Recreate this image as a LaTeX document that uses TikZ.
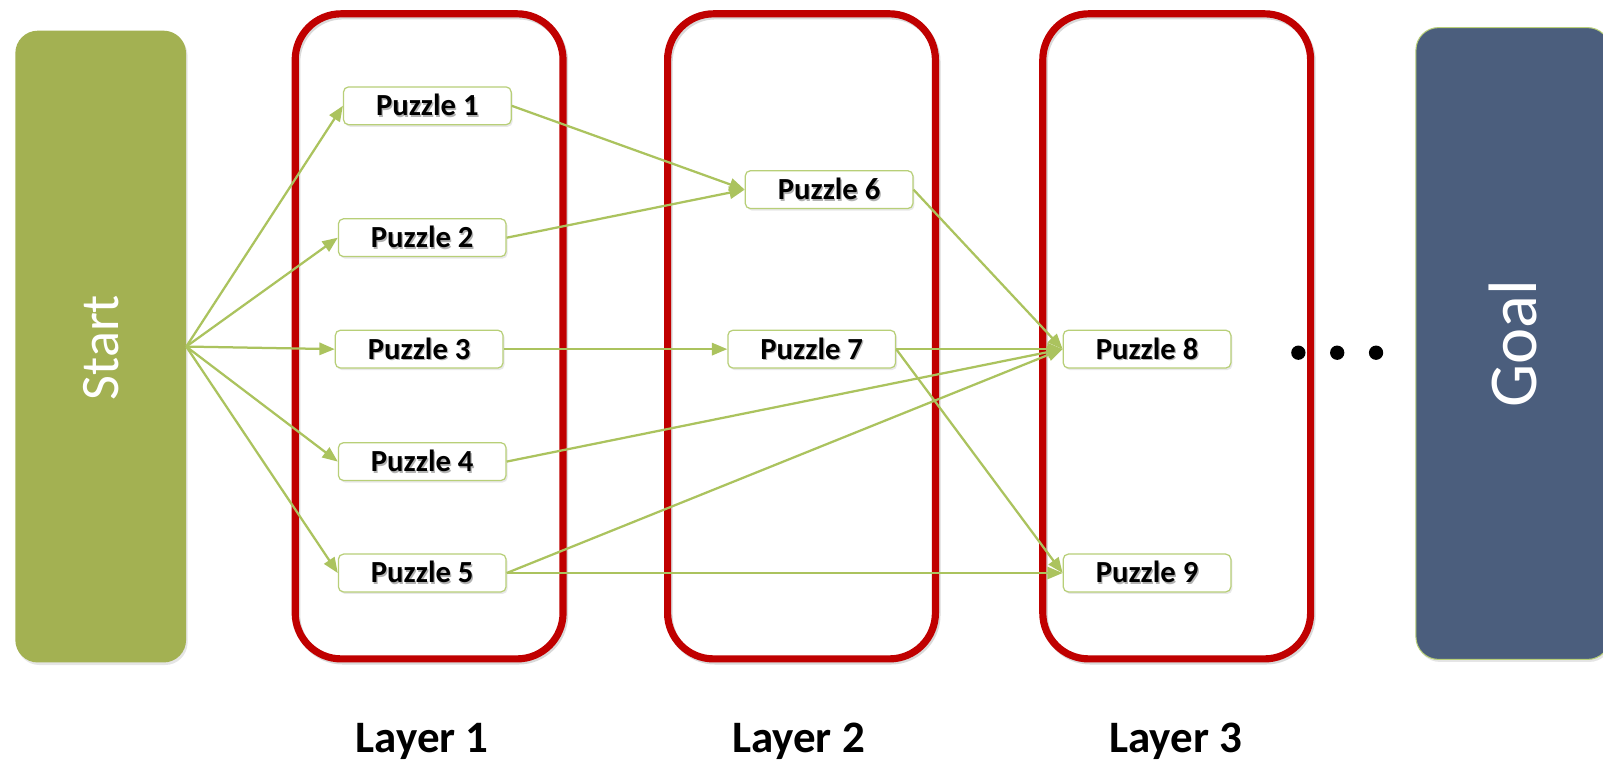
\documentclass[tikz,border=0pt]{standalone}
\usepackage{fontspec}
\setmainfont{Carlito}
\usetikzlibrary{arrows.meta,shadows}
\definecolor{startgreen}{HTML}{A3B152}
\definecolor{goalblue}{HTML}{4B5E7D}
\definecolor{layerred}{HTML}{C00000}
\definecolor{arrowgreen}{HTML}{ABC35E}
\definecolor{nodeborder}{HTML}{B8CF78}
\newcommand\shtext[1]{\makebox[0pt][l]{\hspace{1.2pt}\raisebox{-1.5pt}{\textcolor{black!30}{#1}}}#1}
\begin{document}
\begin{tikzpicture}[x=1pt,y=-1pt,
  puzzle/.style={draw=nodeborder, line width=1.2pt, fill=white, rounded corners=5pt,
    minimum width=164pt, minimum height=37pt, inner sep=0pt,
    font=\fontsize{30}{34}\selectfont\bfseries,
    drop shadow={opacity=0.18, shadow xshift=1.5pt, shadow yshift=-2pt}},
  layerbox/.style={draw=layerred, line width=7pt, rounded corners=45pt,
    minimum width=262pt, minimum height=631pt, inner sep=0pt,
    drop shadow={opacity=0.15, shadow xshift=1.5pt, shadow yshift=-2pt, fill=none, draw=black, line width=7pt}},
  endbox/.style={rounded corners=22pt, inner sep=0pt,
    drop shadow={opacity=0.2, shadow xshift=1.5pt, shadow yshift=-2.5pt}},
  bigtext/.style={rotate=90, text=white, inner sep=0pt},
  layerlabel/.style={font=\fontsize{44}{50}\selectfont\bfseries, inner sep=0pt},
  conn/.style={draw=arrowgreen, line width=2.2pt, -{Triangle[length=15pt, width=12pt]}},
  dotnode/.style={circle, fill=black, minimum size=14pt, inner sep=0pt}
]
\useasboundingbox (0,0) rectangle (1568,750);
\fill[white] (0,0) rectangle (1568,750);

% start and goal
\node[endbox, fill=startgreen, minimum width=167pt, minimum height=618pt] (start) at (98.5,339) {};
\node[bigtext, font=\fontsize{53}{60}\selectfont] (starttext) at (99,340) {Start};
\node[endbox, fill=goalblue, draw=nodeborder, line width=1pt, minimum width=190pt, minimum height=618pt] (goal) at (1480,336) {};
\node[bigtext, font=\fontsize{67}{76}\selectfont] (goaltext) at (1480,336) {Goal};

% layers
\node[layerbox] (L1) at (419.75,329) {};
\node[layerbox] (L2) at (784,329) {};
\node[layerbox] (L3) at (1151,329) {};
\node[layerlabel] (l1) at (413,725) {Layer 1};
\node[layerlabel] (l2) at (781,725) {Layer 2};
\node[layerlabel] (l3) at (1150,725) {Layer 3};

% puzzles
\node[puzzle] (p1) at (418,103.5) {\shtext{Puzzle 1}};
\node[puzzle] (p2) at (413,232.5) {\shtext{Puzzle 2}};
\node[puzzle] (p3) at (410,341.5) {\shtext{Puzzle 3}};
\node[puzzle] (p4) at (413,451.5) {\shtext{Puzzle 4}};
\node[puzzle] (p5) at (413,560.5) {\shtext{Puzzle 5}};
\node[puzzle] (p6) at (811,185.5) {\shtext{Puzzle 6}};
\node[puzzle] (p7) at (794,341.5) {\shtext{Puzzle 7}};
\node[puzzle] (p8) at (1122,341.5) {\shtext{Puzzle 8}};
\node[puzzle] (p9) at (1122,560.5) {\shtext{Puzzle 9}};

% dots
\node[dotnode] (d1) at (1270,345) {};
\node[dotnode] (d2) at (1308,345) {};
\node[dotnode] (d3) at (1346,345) {};

% connectors
\coordinate (so) at (start.east);
\foreach \t in {p1,p2,p3,p4,p5} \draw[conn] (so) -- (\t.west);
\draw[conn] (p1.east) -- (p6.west);
\draw[conn] (p2.east) -- (p6.west);
\draw[conn] (p3.east) -- (p7.west);
\draw[conn] (p6.east) -- (p8.west);
\draw[conn] (p7.east) -- (p8.west);
\draw[conn] (p4.east) -- (p8.west);
\draw[conn] (p5.east) -- (p8.west);
\draw[conn] (p7.east) -- (p9.west);
\draw[conn] (p5.east) -- (p9.west);
\end{tikzpicture}
\end{document}
